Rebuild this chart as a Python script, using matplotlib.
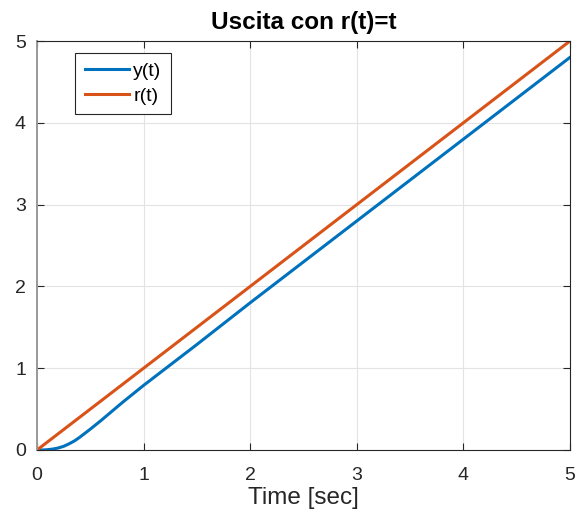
import matplotlib.pyplot as plt

plt.rcParams['font.family'] = ['Liberation Sans', 'DejaVu Sans']

# reference ramp and system output
t_ref = [0, 5]
r_ref = [0, 5]

t_out = [0, 0.05, 0.1, 0.15, 0.2, 0.25, 0.3, 0.35, 0.4, 0.45, 0.5, 0.6, 0.7, 0.8, 0.9, 1.0,
         1.25, 1.5, 2, 3, 4, 5]
y_out = [0, 0.0, 0.004, 0.012, 0.025, 0.045, 0.075, 0.11, 0.155, 0.205, 0.255, 0.36, 0.47,
         0.58, 0.685, 0.79, 1.04, 1.29, 1.8, 2.8, 3.8, 4.8]

ticks = [0, 1, 2, 3, 4, 5]
axcol = '#262626'

fig = plt.figure(figsize=(5.79, 5.18), dpi=100)
ax = fig.add_axes([37/579, 1 - 450/518, 533/579, 409/518])

ax.plot(t_out, y_out, color='#0072BD', lw=2.2, label='y(t)')
ax.plot(t_ref, r_ref, color='#D95319', lw=2.2, label='r(t)')

ax.set_xlim(0, 5)
ax.set_ylim(0, 5)
ax.set_xticks(ticks)
ax.set_yticks(ticks)
ax.grid(True, color='#e3e3e3', lw=0.8)
ax.set_axisbelow(True)
ax.tick_params(direction='in', top=True, right=True, length=5, width=0.8,
               colors=axcol, labelsize=14)
ax.tick_params(axis='x', pad=12.5)
ax.tick_params(axis='y', pad=8)
for s in ax.spines.values():
    s.set_color(axcol)
    s.set_linewidth(0.8)
ax.spines['left'].set_color('#999999')
ax.spines['left'].set_linewidth(1.4)

ax.set_xlabel('Time [sec]', fontsize=17.5, color=axcol, labelpad=2)
ax.set_title('Uscita con r(t)=t', fontsize=17.5, fontweight='bold', pad=8.5)

leg = ax.legend(loc='upper left', bbox_to_anchor=(0.071, 0.971), borderaxespad=0,
                fontsize=14, fancybox=False, framealpha=1, edgecolor=axcol,
                handlelength=2.3, borderpad=0.5, labelspacing=0.35, handletextpad=0.2)
leg.get_frame().set_linewidth(0.8)

fig.savefig('out.png', dpi=100)
